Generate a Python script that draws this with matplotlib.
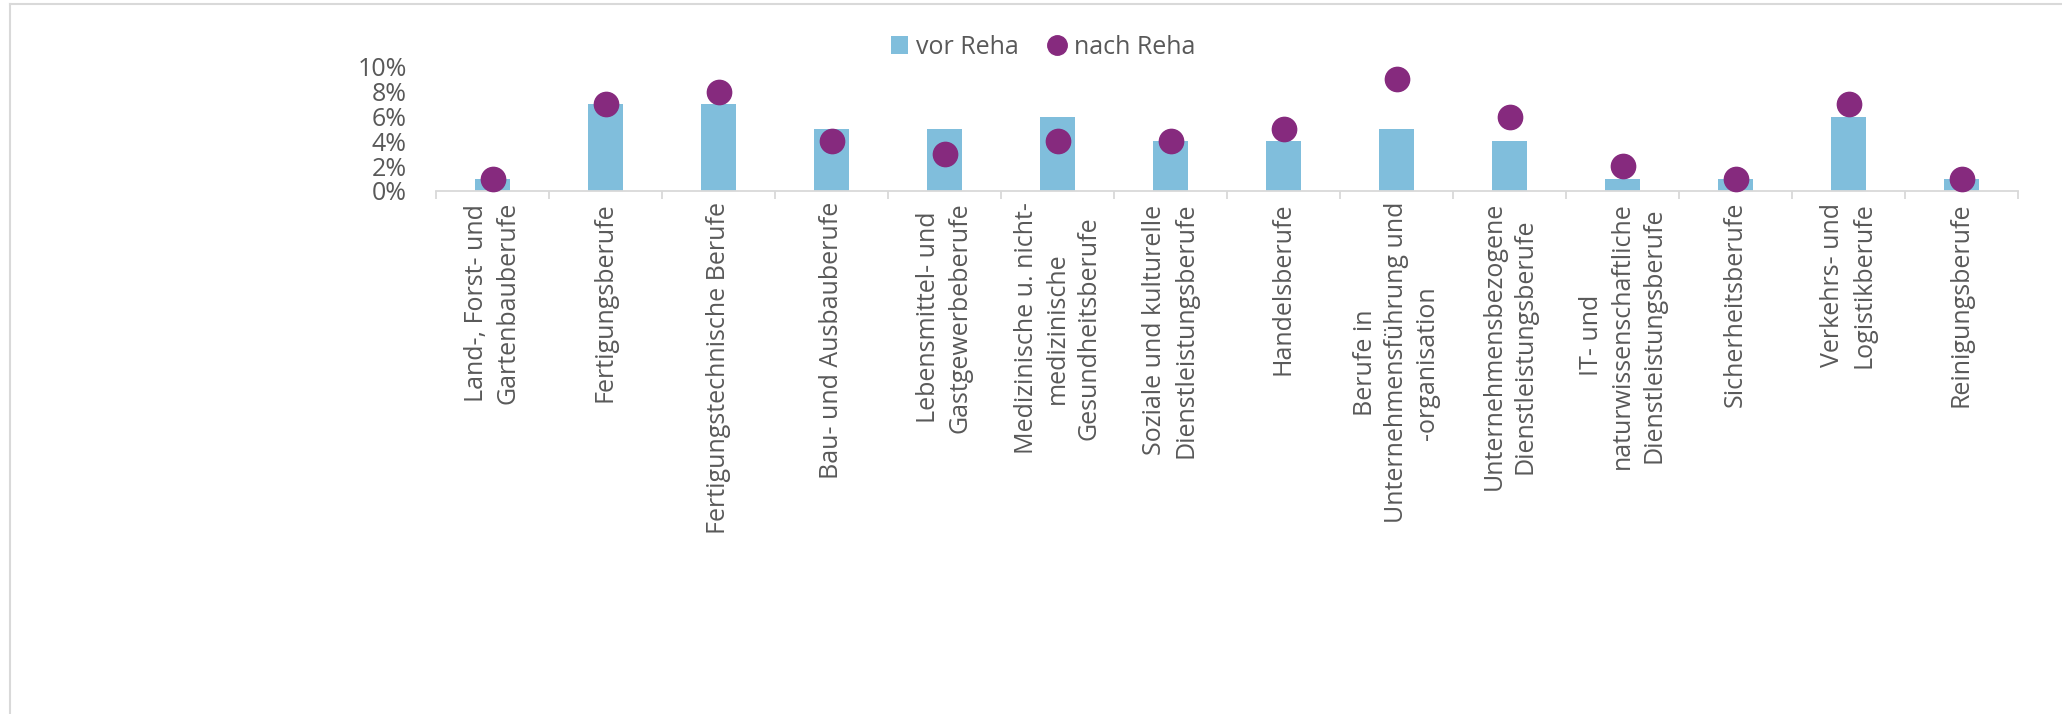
import numpy as np
import matplotlib
matplotlib.use("Agg")
import matplotlib.pyplot as plt
from matplotlib.lines import Line2D
from matplotlib.patches import Patch
from matplotlib.ticker import PercentFormatter

# categories (line breaks as in the original chart)
categories = [
    "Land-, Forst- und\nGartenbauberufe",
    "Fertigungsberufe",
    "Fertigungstechnische Berufe",
    "Bau- und Ausbauberufe",
    "Lebensmittel- und\nGastgewerbeberufe",
    "Medizinische u. nicht-\nmedizinische\nGesundheitsberufe",
    "Soziale und kulturelle\nDienstleistungsberufe",
    "Handelsberufe",
    "Berufe in\nUnternehmensführung und\n-organisation",
    "Unternehmensbezogene\nDienstleistungsberufe",
    "IT- und\nnaturwissenschaftliche\nDienstleistungsberufe",
    "Sicherheitsberufe",
    "Verkehrs- und\nLogistikberufe",
    "Reinigungsberufe",
]
vor_reha = [0.01, 0.07, 0.07, 0.05, 0.05, 0.06, 0.04, 0.04, 0.05, 0.04, 0.01, 0.01, 0.06, 0.01]
nach_reha = [0.01, 0.07, 0.08, 0.04, 0.03, 0.04, 0.04, 0.05, 0.09, 0.06, 0.02, 0.01, 0.07, 0.01]
yticks = [0, 0.02, 0.04, 0.06, 0.08, 0.10]

bar_color = "#80BEDC"
dot_color = "#862A7E"
text_color = "#595959"
grid_color = "#D9D9D9"

plt.rcParams["font.family"] = ["Open Sans", "DejaVu Sans"]

W, H = 2062, 714
fig = plt.figure(figsize=(W / 100, H / 100), dpi=100)
ax = fig.add_axes([436 / W, 1 - 191 / H, (2018 - 436) / W, (191 - 67) / H])

x = np.arange(len(categories))
ax.bar(x, vor_reha, width=0.315, color=bar_color, zorder=2)
ax.plot(x, nach_reha, "o", color=dot_color, markersize=17.5, clip_on=False, zorder=3)

ax.set_xlim(-0.5, len(categories) - 0.5)
ax.set_ylim(0, 0.10)
ax.set_yticks(yticks)
ax.yaxis.set_major_formatter(PercentFormatter(1.0, decimals=0))
ax.tick_params(axis="y", length=0, pad=21, labelsize=18, labelcolor=text_color)

# category labels at the centres, tick marks on the boundaries
ax.set_xticks(x)
ax.set_xticklabels(categories, rotation=90, ha="center", va="top",
                   multialignment="center", linespacing=1.32)
ax.set_xticks(np.arange(len(categories) + 1) - 0.5, minor=True)
ax.tick_params(axis="x", which="major", length=0, pad=8, labelsize=18, labelcolor=text_color)
ax.tick_params(axis="x", which="minor", length=6, width=1.3, color=grid_color)

for s in ["top", "right", "left"]:
    ax.spines[s].set_visible(False)
ax.spines["bottom"].set_color(grid_color)
ax.spines["bottom"].set_linewidth(1.3)

handles = [
    Patch(facecolor=bar_color, edgecolor="none", label="vor Reha"),
    Line2D([], [], marker="o", linestyle="none", color=dot_color, markersize=14, label="nach Reha"),
]
fig.legend(handles=handles, loc="center", bbox_to_anchor=(1043 / W, 1 - 47 / H), ncol=2,
           frameon=False, fontsize=18, labelcolor=text_color, handlelength=0.7,
           handleheight=0.7, handletextpad=0.3, columnspacing=1.2)

# light frame around the chart (left and top edges visible)
fig.add_artist(Line2D([10 / W, 10 / W], [0, 1 - 4 / H], color=grid_color, lw=1.5))
fig.add_artist(Line2D([10 / W, 1], [1 - 4 / H, 1 - 4 / H], color=grid_color, lw=1.5))

fig.savefig("out.png", dpi=100, facecolor="white")
